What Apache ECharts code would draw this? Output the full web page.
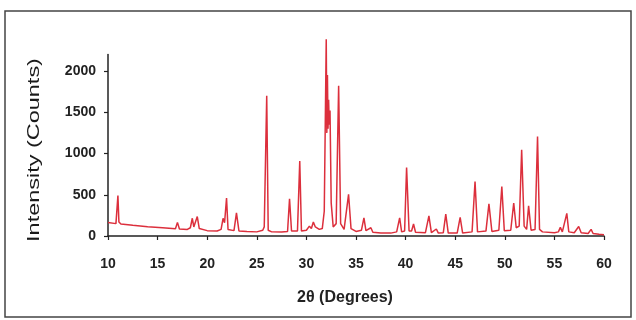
<!DOCTYPE html>
<html>
<head>
<meta charset="utf-8">
<script src="https://cdn.jsdelivr.net/npm/echarts@6/dist/echarts.min.js"></script>
<style>
html,body{margin:0;padding:0;background:#fff;}
#chart{width:636px;height:320px;}
</style>
</head>
<body>
<div id="chart"></div>
<script>
// 2θ positions (degrees)
var twoTheta = [
  10.0,10.8,10.9,11.0,11.1,11.3,12.5,14.0,15.5,16.8,17.0,17.2,18.0,18.3,18.5,18.65,18.8,19.0,19.2,20.0,
  21.0,21.4,21.6,21.75,21.95,22.1,22.7,22.95,23.2,24.0,25.0,25.6,25.75,25.85,26.0,26.15,26.5,27.5,28.1,28.3,
  28.5,29.1,29.33,29.5,30.0,30.3,30.5,30.7,30.9,31.1,31.3,31.6,31.8,32.0,32.06,32.12,32.18,32.24,32.3,32.38,
  32.5,32.7,33.0,33.25,
  33.45,33.8,34.25,34.5,35.0,35.55,35.8,36.0,36.5,36.7,37.5,38.5,39.1,39.4,39.6,39.9,40.1,40.35,40.6,40.8,
  41.0,42.0,42.35,42.6,43.1,43.3,43.8,44.05,44.3,45.2,45.5,45.75,46.7,47.0,47.25,48.1,48.4,48.7,49.4,49.7,
  49.95,50.6,50.9,51.15,51.45,51.7,51.95,52.2,52.4,52.65,53.05,53.3,53.5,53.8,55.0,55.4,55.6,55.8,56.0,56.25,
  56.45,57.0,57.45,57.7,58.4,58.7,58.9,59.5,60.0
];
// Intensity (counts)
var intensity = [
  165,150,160,490,170,145,130,112,100,88,165,85,80,100,215,110,130,235,90,65,
  60,80,215,160,460,80,65,280,62,55,50,70,110,90,1700,70,50,48,55,450,
  60,60,910,60,70,120,90,170,110,130,80,90,300,2385,1250,1950,1300,1650,1350,1520,
  400,110,150,1820,
  150,80,505,90,55,70,220,65,100,45,35,35,50,220,50,60,830,60,60,145,
  45,40,245,40,85,35,40,265,35,35,225,35,50,660,50,60,390,55,70,600,
  65,70,400,100,120,1045,120,80,365,70,80,1205,80,50,40,50,105,50,60,275,
  50,40,115,40,30,80,30,20,15
];
var yTicks = [0, 500, 1000, 1500, 2000];
var xTitle = '2\u03b8 (Degrees)';
var yTitle = 'Intensity (Counts)';

var pts = twoTheta.map(function (t, i) { return [t, intensity[i]]; });

var chart = echarts.init(document.getElementById('chart'), null, {renderer: 'canvas'});
var font = 'Liberation Sans, Arial, sans-serif';
chart.setOption({
  animation: false,
  backgroundColor: '#fff',
  grid: {left: 108, right: 32, top: 54.5, bottom: 84},
  graphic: [{
    type: 'rect', shape: {x: 5, y: 11, width: 626, height: 306},
    style: {fill: 'none', stroke: '#444', lineWidth: 1.5}, silent: true
  }, {
    type: 'text', x: 34, y: 150, rotation: Math.PI / 2, scaleX: 1.38, silent: true,
    style: {text: yTitle, font: '17px ' + font, fill: '#1a1a1a', textAlign: 'center', textVerticalAlign: 'middle'}
  }, {
    type: 'text', x: 345, y: 298, silent: true,
    style: {text: xTitle, font: 'bold 16px ' + font, fill: '#222', textAlign: 'center', textVerticalAlign: 'middle'}
  }],
  xAxis: {
    type: 'value', min: 10, max: 60, interval: 5,
    axisLine: {show: true, lineStyle: {color: '#222', width: 1.5}},
    axisTick: {show: true, inside: false, length: 4, lineStyle: {color: '#222', width: 1.2}},
    axisLabel: {fontFamily: font, fontSize: 14, color: '#222', margin: 21, fontWeight: 'bold'},
    splitLine: {show: false}
  },
  yAxis: {
    type: 'value', min: 0, max: 2200,
    axisLine: {show: true, lineStyle: {color: '#222', width: 1.5}},
    axisTick: {show: true, inside: false, length: 4, customValues: yTicks, lineStyle: {color: '#222', width: 1.2}},
    axisLabel: {fontFamily: font, fontSize: 14, color: '#222', margin: 12, customValues: yTicks, fontWeight: 'bold',
      formatter: function (v) { return String(v); }},
    splitLine: {show: false}
  },
  series: [{
    type: 'line', data: pts, showSymbol: false, clip: false,
    lineStyle: {color: '#dc2f3c', width: 1.5},
    silent: true
  }]
});
</script>
</body>
</html>
